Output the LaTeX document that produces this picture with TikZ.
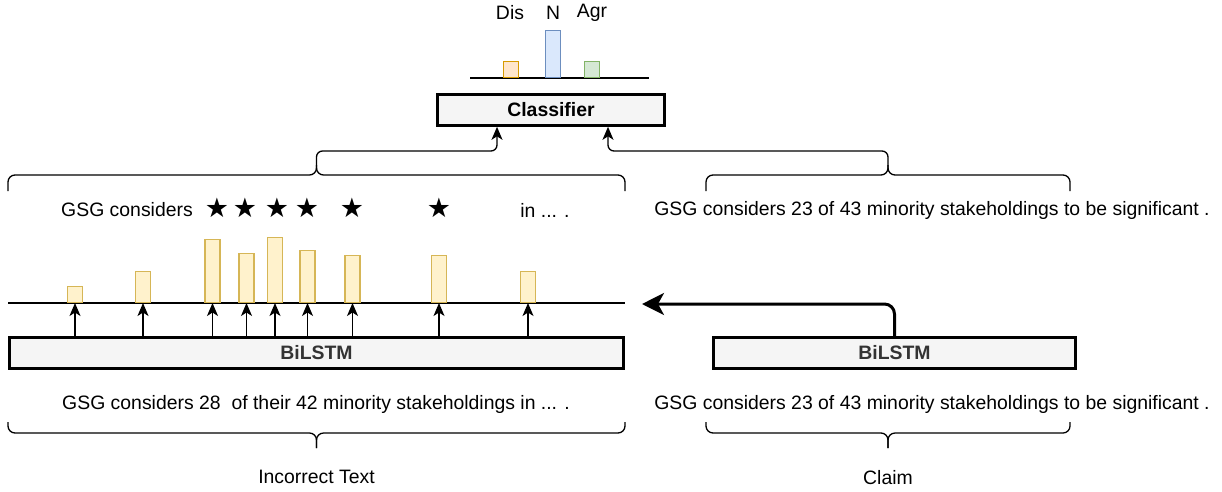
\documentclass[tikz,border=0pt]{standalone}
\usepackage{fontspec}
\setmainfont{Liberation Sans}
\newfontfamily\starfont{DejaVu Sans}
\usetikzlibrary{arrows.meta,positioning}
\definecolor{boxfill}{HTML}{F5F5F5}
\definecolor{boxtext}{HTML}{333333}
\definecolor{barfill}{HTML}{FFF2CC}
\definecolor{barline}{HTML}{D6B656}
\definecolor{disfill}{HTML}{FFE6CC}
\definecolor{disline}{HTML}{D79B00}
\definecolor{nfill}{HTML}{DAE8FC}
\definecolor{nline}{HTML}{6C8EBF}
\definecolor{agrfill}{HTML}{D5E8D4}
\definecolor{agrline}{HTML}{82B366}
\newcommand{\dfont}{\fontsize{19.4}{23}\selectfont}
\newcommand{\topbrace}[4]{%
	\draw[brace] (#1,#3+16) -- (#1,#3) -- ({(#1+#2)/2},#3) -- ({(#1+#2)/2},#3-10) coordinate (#4);
	\draw[brace] ({(#1+#2)/2},#3-10) -- ({(#1+#2)/2},#3) -- (#2,#3) -- (#2,#3+16);}
\newcommand{\botbrace}[4]{%
	\draw[brace] (#1,#3-11) -- (#1,#3) -- ({(#1+#2)/2},#3) -- ({(#1+#2)/2},#3+15) coordinate (#4);
	\draw[brace] ({(#1+#2)/2},#3+15) -- ({(#1+#2)/2},#3) -- (#2,#3) -- (#2,#3-11);}

\begin{document}
\begin{tikzpicture}[x=1pt,y=-1pt,
		box/.style={draw=black,line width=2.6pt,fill=boxfill,minimum height=31pt,inner sep=0pt,text=boxtext,font=\bfseries\dfont},
		bar/.style={line width=1.2pt,minimum width=15pt,inner sep=0pt,anchor=south},
		arr/.style={line width=1.3pt,-{Stealth[length=13pt,width=11pt,inset=3.5pt]}},
		brace/.style={line width=1.3pt,rounded corners=7pt},
		txt/.style={font=\dfont,inner sep=0pt},
		starmark/.style={font=\starfont\fontsize{27}{29}\selectfont,inner sep=0pt}]
		\useasboundingbox (0,0) rectangle (1222,491);

		\node[box,minimum width=227pt,text=black] (clf) at (551,110) {Classifier};
		\draw[line width=1.3pt] (470,78) -- (649,78);
		\node[bar,draw=disline,fill=disfill,minimum height=16pt] (dis) at (511,78) {};
		\node[bar,draw=nline,fill=nfill,minimum height=47pt] (neu) at (553,78) {};
		\node[bar,draw=agrline,fill=agrfill,minimum height=16pt] (agr) at (592,78) {};
		\node[txt] (dislab) at (510,13) {Dis};
		\node[txt] (nlab) at (553,13) {N};
		\node[txt] (agrlab) at (592,13) {Agr};

		\topbrace{8}{625}{175}{ltip}
		\topbrace{706}{1070}{175}{rtip}
		\draw[arr,rounded corners=6pt] (ltip) -- ++(0,-14) -| ([xshift=-54pt]clf.south);
		\draw[arr,rounded corners=6pt] (rtip) -- ++(0,-14) -| ([xshift=57pt]clf.south);

		\node[txt] (gsg) at (127,210) {GSG considers};
		\foreach \s [count=\i] in {217,245,277,307,352,439}
			\node[starmark] (st\i) at (\s,208) {★};
		\node[txt] (inend) at (545,210) {in ... .};
		\node[txt] (claimtop) at (932,210) {GSG considers 23 of 43 minority stakeholdings to be significant .};

		\node[box,minimum width=614pt] (lstm) at (316.5,353) {BiLSTM};
		\node[box,minimum width=362pt] (rlstm) at (894.5,353) {BiLSTM};
		\draw[line width=1.3pt] (8,303) -- (625,303);
		\foreach \x/\t [count=\i] in {75/287,143/272,212.5/240,246.5/254,275/238,307.5/251,352.5/256,439/256,528/272}{
			\node[bar,draw=barline,fill=barfill,minimum height=303pt-\t pt] (bar\i) at (\x,303) {};
			\draw[arr] (lstm.north -| bar\i.south) -- (bar\i.south);
		}
		\draw[line width=3pt,rounded corners=10pt,-{Stealth[length=22pt,width=22pt,inset=6pt]}] (rlstm.north) |- (642,304);

		\node[txt] (textbot) at (316,404) {GSG considers 28~ of their 42 minority stakeholdings in ... .};
		\node[txt] (claimbot) at (932,404) {GSG considers 23 of 43 minority stakeholdings to be significant .};
		\botbrace{8}{625}{433}{lbot}
		\botbrace{706}{1070}{433}{rbot}
		\node[txt,below=22pt of lbot] (inclab) {Incorrect Text};
		\node[txt,below=22pt of rbot] (claimlab) {Claim};
	\end{tikzpicture}
\end{document}
